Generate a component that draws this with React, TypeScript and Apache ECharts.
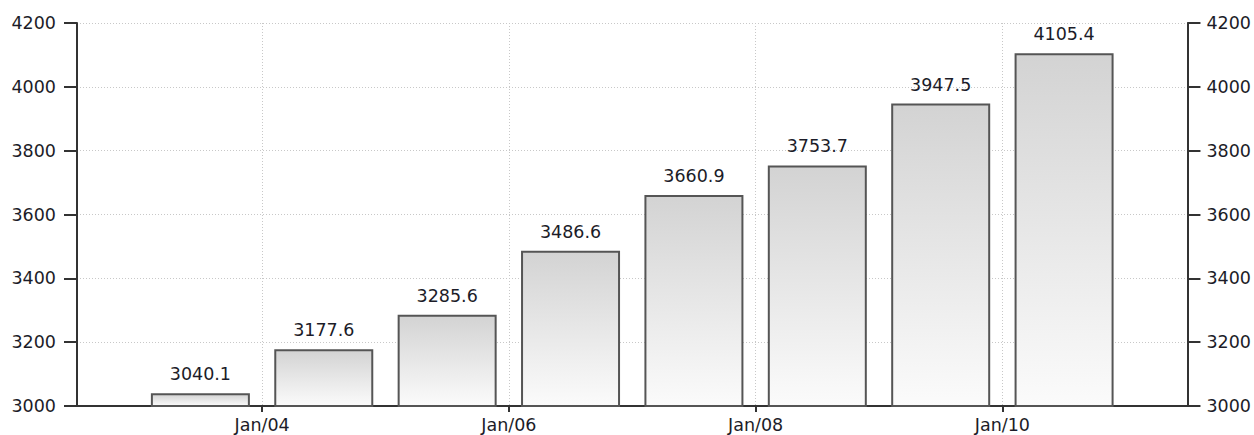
import React, { useEffect, useRef } from "react";
import * as echarts from "echarts";

const years = [2003, 2004, 2005, 2006, 2007, 2008, 2009, 2010];
const values = [3040.1, 3177.6, 3285.6, 3486.6, 3660.9, 3753.7, 3947.5, 4105.4];
const xTickYears = [2004, 2006, 2008, 2010];
const yMin = 3000;
const yMax = 4200;
const yStep = 200;

const FONT = "DejaVu Sans";
const TEXT = "#1c1c28";
const AXIS = "#333";
const FS = 17.5;

export default function App() {
  const ref = useRef<HTMLDivElement>(null);
  useEffect(() => {
    if (!ref.current) return;
    const chart = echarts.init(ref.current, null, { renderer: "svg" });
    const data = years.map((y, i) => [y + 0.5, values[i]]);
    const yAxisBase = (pos: "left" | "right") => ({
      type: "value",
      position: pos,
      min: yMin,
      max: yMax,
      interval: yStep,
      axisLine: { show: true, lineStyle: { color: AXIS, width: 2 } },
      axisTick: { show: true, length: 13, lineStyle: { color: AXIS, width: 2 } },
      axisLabel: {
        margin: pos === "left" ? 21 : 19,
        color: TEXT,
        fontSize: FS,
        fontFamily: FONT,
        formatter: (v: number) => String(v),
      },
      splitLine: {
        show: pos === "left",
        lineStyle: { color: "#c8c8c8", width: 1, type: [1, 2] },
      },
    });
    chart.setOption({
      animation: false,
      grid: { left: 77, right: 66, top: 23, bottom: 29, containLabel: false },
      xAxis: {
        type: "value",
        min: 2002.5,
        max: 2011.5,
        axisLine: { show: true, onZero: false, lineStyle: { color: AXIS, width: 2 } },
        axisTick: { show: true, length: 6, customValues: xTickYears, lineStyle: { color: AXIS, width: 2 } },
        axisLabel: {
          customValues: xTickYears,
          margin: 10,
          color: TEXT,
          fontSize: FS,
          fontFamily: FONT,
          formatter: (v: number) => "Jan/" + String(Math.round(v) % 100).padStart(2, "0"),
        },
        splitLine: {
          show: true,
          customValues: xTickYears,
          lineStyle: { color: "#c8c8c8", width: 1, type: [1, 2] },
        },
      },
      yAxis: [yAxisBase("left"), yAxisBase("right")],
      series: [
        {
          type: "bar",
          data,
          barWidth: 99,
          itemStyle: {
            color: new echarts.graphic.LinearGradient(0, 0, 0, 1, [
              { offset: 0, color: "#d3d3d3" },
              { offset: 1, color: "#fbfbfb" },
            ]),
            borderColor: "#555",
            borderWidth: 2,
          },
          label: {
            show: true,
            position: "top",
            distance: 10,
            color: TEXT,
            fontSize: FS,
            fontFamily: FONT,
            formatter: (p: any) => Number(p.value[1]).toFixed(1),
          },
        },
      ],
    });
    return () => chart.dispose();
  }, []);
  return (
    <div
      ref={ref}
      style={{ position: "absolute", left: 0, top: 0, width: 1254, height: 435 }}
    />
  );
}
